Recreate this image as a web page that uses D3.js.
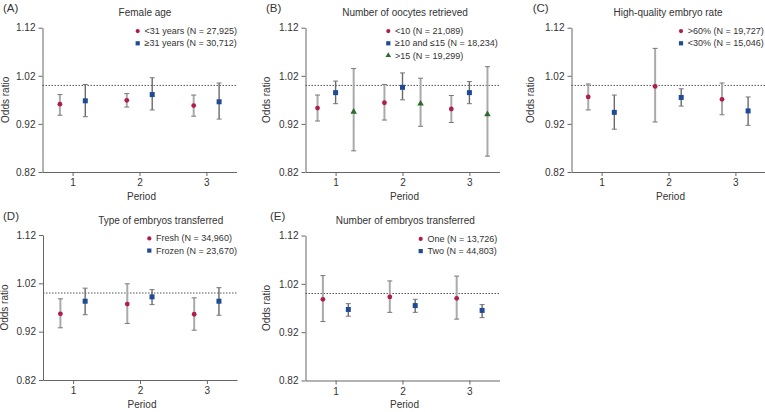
<html>
<head>
<meta charset="utf-8">
<script src="https://d3js.org/d3.v7.min.js"></script>
<style>
  body { margin: 0; background: #fff; }
  text { font-family: "Liberation Sans", Arial, sans-serif; fill: #333; }
</style>
</head>
<body>
<div id="chart"></div>
<script>
// ---- data ----
const periods = [1, 2, 3];
const yTicks = [0.82, 0.92, 1.02, 1.12];

// (A) Female age
const ageLabels = ["<31 years (N = 27,925)", "≥31 years (N = 30,712)"];
const ageOR = [[0.961, 0.969, 0.958], [0.968, 0.981, 0.966]];
const ageLo = [[0.938, 0.955, 0.936], [0.935, 0.949, 0.930]];
const ageHi = [[0.981, 0.983, 0.980], [1.002, 1.016, 1.005]];

// (B) Number of oocytes retrieved
const oocyteLabels = ["<10 (N = 21,089)", "≥10 and ≤15 (N = 18,234)", ">15 (N = 19,299)"];
const oocyteOR = [[0.953, 0.964, 0.951], [0.985, 0.996, 0.985], [0.945, 0.962, 0.940]];
const oocyteLo = [[0.926, 0.928, 0.923], [0.962, 0.970, 0.962], [0.864, 0.915, 0.853]];
const oocyteHi = [[0.980, 1.002, 0.979], [1.009, 1.026, 1.008], [1.035, 1.015, 1.039]];

// (C) High-quality embryo rate
const qualityLabels = [">60% (N = 19,727)", "<30% (N = 15,046)"];
const qualityOR = [[0.976, 0.998, 0.971], [0.944, 0.975, 0.947]];
const qualityLo = [[0.949, 0.924, 0.939], [0.909, 0.957, 0.917]];
const qualityHi = [[1.003, 1.077, 1.005], [0.980, 0.993, 0.976]];

// (D) Type of embryos transferred
const typeLabels = ["Fresh (N = 34,960)", "Frozen (N = 23,670)"];
const typeOR = [[0.957, 0.977, 0.956], [0.983, 0.992, 0.983]];
const typeLo = [[0.928, 0.937, 0.923], [0.955, 0.976, 0.954]];
const typeHi = [[0.988, 1.019, 0.990], [1.010, 1.007, 1.011]];

// (E) Number of embryos transferred
const numberLabels = ["One (N = 13,726)", "Two (N = 44,803)"];
const numberOR = [[0.988, 0.993, 0.990], [0.967, 0.975, 0.965]];
const numberLo = [[0.942, 0.961, 0.947], [0.953, 0.961, 0.950]];
const numberHi = [[1.037, 1.026, 1.036], [0.979, 0.988, 0.977]];

const shapes = ["circle", "square", "triangle"];
const colors = ["#b01c4b", "#1f4a96", "#2e6a2e"];
const barColors = ["#aaaaaa", "#6a6a6a", "#aaaaaa"];

// ---- panel layout ----
const panels = [
  {tag: "(A)", title: "Female age", labels: ageLabels, or: ageOR, lo: ageLo, hi: ageHi,
   left: 42.5, top: 27.7, bottom: 172, tagX: 3, titleX: 145, ylabX: 5, legX: 137.7, offs: [-0.19, 0.19]},
  {tag: "(B)", title: "Number of oocytes retrieved", labels: oocyteLabels, or: oocyteOR, lo: oocyteLo, hi: oocyteHi,
   left: 305.5, top: 27.7, bottom: 172, tagX: 266, titleX: 405, ylabX: 266.7, legX: 388.3, offs: [-0.27, 0, 0.27]},
  {tag: "(C)", title: "High-quality embryo rate", labels: qualityLabels, or: qualityOR, lo: qualityLo, hi: qualityHi,
   left: 571.5, top: 27.7, bottom: 172, tagX: 532.7, titleX: 668, ylabX: 530.3, legX: 681, offs: [-0.2, 0.19]},
  {tag: "(D)", title: "Type of embryos transferred", labels: typeLabels, or: typeOR, lo: typeLo, hi: typeHi,
   left: 43, top: 235, bottom: 380, tagX: 3, titleX: 160.7, ylabX: 4.7, legX: 149.3, offs: [-0.19, 0.18]},
  {tag: "(E)", title: "Number of embryos transferred", labels: numberLabels, or: numberOR, lo: numberLo, hi: numberHi,
   left: 305.5, top: 235.5, bottom: 380.5, tagX: 270, titleX: 405.3, ylabX: 266.7, legX: 420.7, offs: [-0.19, 0.19]}
];

const W = 765, H = 412;
const svg = d3.select("#chart").append("svg").attr("width", W).attr("height", H);

function marker(g, shape, cx, cy, s, color) {
  if (shape === "circle") {
    g.append("circle").attr("cx", cx).attr("cy", cy).attr("r", s / 2).attr("fill", color);
  } else if (shape === "square") {
    g.append("rect").attr("x", cx - s / 2).attr("y", cy - s / 2).attr("width", s).attr("height", s).attr("fill", color);
  } else {
    g.append("path").attr("d", d3.symbol().type(d3.symbolTriangle).size(s * s * 0.75)())
      .attr("transform", "translate(" + cx + "," + cy + ")").attr("fill", color);
  }
}

panels.forEach(p => {
  const g = svg.append("g");
  const x = d3.scaleLinear().domain([0.55, 3.45]).range([p.left, p.left + 194]);
  const y = d3.scaleLinear().domain([0.82, 1.12]).range([p.bottom, p.top]);

  // panel tag and title
  g.append("text").attr("x", p.tagX).attr("y", p.top - 15.5).attr("font-size", 11.5).text(p.tag);
  g.append("text").attr("x", p.titleX).attr("y", p.top - 11.5).attr("font-size", 10)
    .attr("text-anchor", "middle").text(p.title);

  // axes
  const yAxis = g.append("g").attr("transform", "translate(" + p.left + ",0)")
    .call(d3.axisLeft(y).tickValues(yTicks).tickFormat(d3.format(".2f")).tickSize(4).tickSizeOuter(0).tickPadding(3));
  const xAxis = g.append("g").attr("transform", "translate(0," + p.bottom + ")")
    .call(d3.axisBottom(x).tickValues(periods).tickFormat(d3.format("d")).tickSize(4).tickSizeOuter(0).tickPadding(3));
  [yAxis, xAxis].forEach(a => {
    a.selectAll("path, line").attr("stroke", "#666").attr("stroke-width", 1);
    a.selectAll("text").attr("font-size", 10).attr("fill", "#333")
      .style("font-family", "'Liberation Sans', Arial, sans-serif");
  });

  // axis labels
  g.append("text").attr("transform", "translate(" + p.ylabX + "," + ((p.top + p.bottom) / 2) + ") rotate(-90)")
    .attr("text-anchor", "middle").attr("dominant-baseline", "central").attr("font-size", 10).text("Odds ratio");
  g.append("text").attr("x", x(2) + 2).attr("y", p.bottom + 27.5).attr("text-anchor", "middle")
    .attr("font-size", 10).text("Period");

  // reference line at OR = 1
  g.append("line").attr("x1", p.left).attr("x2", p.left + 194).attr("y1", y(1)).attr("y2", y(1))
    .attr("stroke", "#555").attr("stroke-width", 1).attr("stroke-dasharray", "1.5,1.5");

  // error bars and points
  p.or.forEach((vals, s) => {
    vals.forEach((v, i) => {
      const cx = x(periods[i] + p.offs[s]);
      const yl = y(p.lo[s][i]), yh = y(p.hi[s][i]);
      g.append("line").attr("x1", cx).attr("x2", cx).attr("y1", yl).attr("y2", yh)
        .attr("stroke", barColors[s]).attr("stroke-width", s === 1 ? 1.4 : 2);
      [yl, yh].forEach(yy => g.append("line").attr("x1", cx - 2.5).attr("x2", cx + 2.5)
        .attr("y1", yy).attr("y2", yy).attr("stroke", "#777").attr("stroke-width", 1));
      marker(g, shapes[s], cx, y(v), s === 0 ? 4.8 : 5, colors[s]);
    });
  });

  // legend
  p.labels.forEach((lab, s) => {
    const ly = p.top + 3.4 + s * 12.2;
    marker(g, shapes[s], p.legX, ly, 4.2, colors[s]);
    g.append("text").attr("x", p.legX + 6.8).attr("y", ly).attr("dominant-baseline", "central")
      .attr("font-size", 9).text(lab);
  });
});
</script>
</body>
</html>
